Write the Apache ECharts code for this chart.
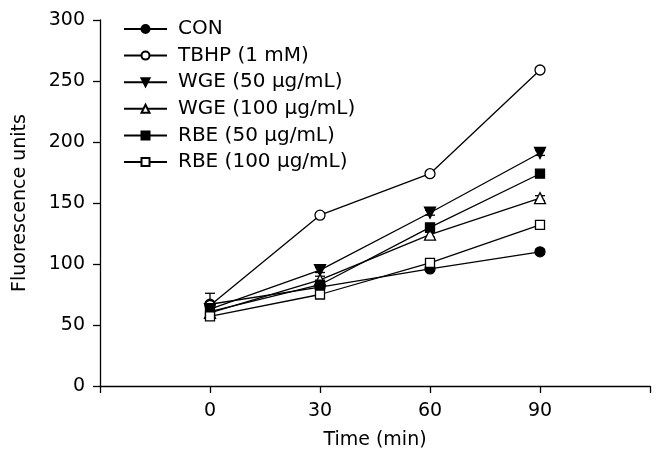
<!DOCTYPE html>
<html><head><meta charset="utf-8">
<script src="https://cdn.jsdelivr.net/npm/echarts@6/dist/echarts.min.js"></script>
<style>html,body{margin:0;padding:0;background:#fff}#c{width:663px;height:469px}</style>
</head><body><div id="c"></div>
<script>
const times = [0, 30, 60, 90];
const xTicks = [0, 30, 60, 90];
const seriesNames = ['CON', 'TBHP (1 mM)', 'WGE (50 \u03bcg/mL)', 'WGE (100 \u03bcg/mL)', 'RBE (50 \u03bcg/mL)', 'RBE (100 \u03bcg/mL)'];
const conVals   = [67, 81, 96, 110];
const tbhpVals  = [66, 140, 174, 259];
const wge50Vals = [63, 95, 142, 191];
const wge100Vals= [60, 87, 124, 154];
const rbe50Vals = [61, 83, 130, 174];
const rbe100Vals= [57, 75, 101, 132];
const conErr    = [9, 2, 2, 2];
const tbhpErr   = [3, 2, 2, 2];
const wge50Err  = [3, 2, 2, 2];
const wge100Err = [3, 3, 2, 2];
const rbe50Err  = [3, 2, 2, 2];
const rbe100Err = [3, 2, 2, 2];

const allVals = [conVals, tbhpVals, wge50Vals, wge100Vals, rbe50Vals, rbe100Vals];
const allErr = [conErr, tbhpErr, wge50Err, wge100Err, rbe50Err, rbe100Err];
const symbols = [
  {symbol:'circle', fill:'#000', rot:0, size:10},
  {symbol:'circle', fill:'#fff', rot:0, size:10},
  {symbol:'triangle', fill:'#000', rot:180, size:11},
  {symbol:'triangle', fill:'#fff', rot:0, size:11},
  {symbol:'rect', fill:'#000', rot:0, size:9},
  {symbol:'rect', fill:'#fff', rot:0, size:9}
];
const FONT = '"DejaVu Sans", Arial, sans-serif';

const series = [];
allVals.forEach((vals, i) => {
  const err = allErr[i];
  series.push({
    type: 'custom',
    name: seriesNames[i] + '_err',
    silent: true,
    z: 1,
    data: times.map((t, k) => [t, vals[k] - err[k], vals[k] + err[k]]),
    renderItem: function (params, api) {
      const lo = api.coord([api.value(0), api.value(1)]);
      const hi = api.coord([api.value(0), api.value(2)]);
      const w = 5;
      const st = {stroke:'#000', lineWidth:1.3};
      return {type:'group', children:[
        {type:'line', shape:{x1:lo[0], y1:lo[1], x2:hi[0], y2:hi[1]}, style:st},
        {type:'line', shape:{x1:hi[0]-w, y1:hi[1], x2:hi[0]+w, y2:hi[1]}, style:st},
        {type:'line', shape:{x1:lo[0]-w, y1:lo[1], x2:lo[0]+w, y2:lo[1]}, style:st}
      ]};
    }
  });
  const s = symbols[i];
  series.push({
    type: 'line',
    name: seriesNames[i],
    z: 3,
    data: times.map((t, k) => [t, vals[k]]),
    symbol: s.symbol,
    symbolSize: s.size,
    symbolRotate: s.rot,
    showAllSymbol: true,
    lineStyle: {color:'#000', width:1.3},
    itemStyle: {color: s.fill, borderColor:'#000', borderWidth: 1.3},
    emphasis: {disabled:true},
    animation: false
  });
});

const legends = seriesNames.map((n, i) => ({
  data: [n],
  left: 123,
  top: 18 + i * 26.6,
  itemWidth: 43,
  itemHeight: 10,
  itemGap: 0,
  selectedMode: false,
  textStyle: {fontFamily: FONT, fontSize: 20, lineHeight: 22, color:'#000', padding:[0,0,0,6]},
  padding: 0
}));

const chart = echarts.init(document.getElementById('c'), null, {renderer:'canvas'});
chart.setOption({
  animation: false,
  backgroundColor: '#fff',
  legend: legends,
  grid: {left: 100, right: 13, top: 20, bottom: 83, containLabel: false},
  xAxis: {
    type: 'value', min: -30, max: 120, interval: 30,
    name: 'Time (min)', nameLocation: 'middle', nameGap: 45,
    nameTextStyle: {fontFamily: FONT, fontSize: 19, color:'#000'},
    axisLine: {show:true, onZero:false, lineStyle:{color:'#000', width:1.3}},
    axisTick: {show:true, inside:false, length:7, lineStyle:{color:'#000', width:1.3}},
    axisLabel: {fontFamily: FONT, fontSize: 19, color:'#000', margin: 16,
      formatter: v => xTicks.indexOf(v) >= 0 ? String(v) : ''},
    splitLine: {show:false}
  },
  yAxis: {
    type: 'value', min: 0, max: 300, interval: 50,
    name: 'Fluorescence units', nameLocation: 'middle', nameGap: 70,
    nameTextStyle: {fontFamily: FONT, fontSize: 19, color:'#000'},
    axisLine: {show:true, onZero:false, lineStyle:{color:'#000', width:1.3}},
    axisTick: {show:true, inside:false, length:7, lineStyle:{color:'#000', width:1.3}},
    axisLabel: {fontFamily: FONT, fontSize: 19, color:'#000', margin: 15},
    splitLine: {show:false}
  },
  series: series
});
</script>
</body></html>
